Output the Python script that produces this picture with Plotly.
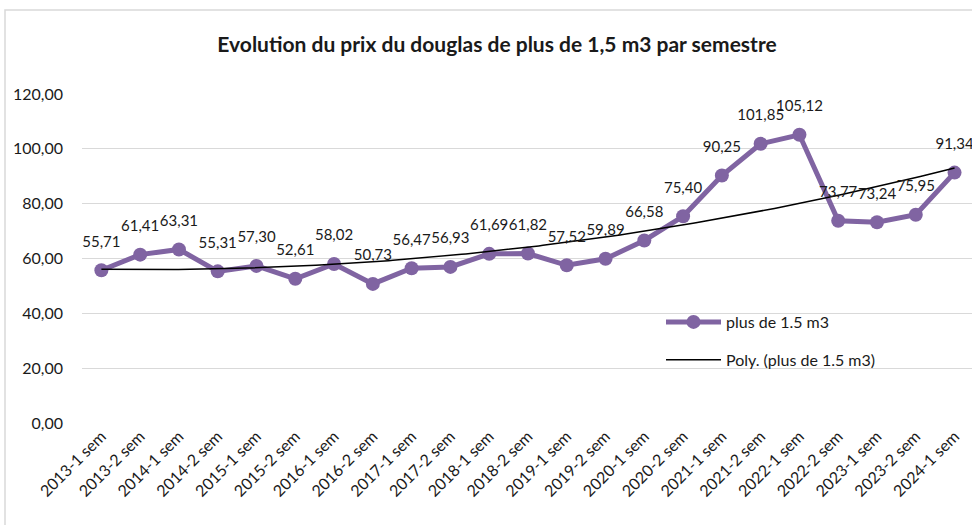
import numpy as np
import plotly.graph_objects as go

categories = ["2013-1 sem", "2013-2 sem", "2014-1 sem", "2014-2 sem", "2015-1 sem", "2015-2 sem",
              "2016-1 sem", "2016-2 sem", "2017-1 sem", "2017-2 sem", "2018-1 sem", "2018-2 sem",
              "2019-1 sem", "2019-2 sem", "2020-1 sem", "2020-2 sem", "2021-1 sem", "2021-2 sem",
              "2022-1 sem", "2022-2 sem", "2023-1 sem", "2023-2 sem", "2024-1 sem"]
prices = [55.71, 61.41, 63.31, 55.31, 57.30, 52.61, 58.02, 50.73, 56.47, 56.93, 61.69, 61.82,
          57.52, 59.89, 66.58, 75.40, 90.25, 101.85, 105.12, 73.77, 73.24, 75.95, 91.34]
y_ticks = [0, 20, 40, 60, 80, 100, 120]

idx = np.arange(len(categories))
coef = np.polyfit(idx, prices, 2)
xs = np.linspace(0, len(categories) - 1, 200)
trend = np.polyval(coef, xs)

FONT = "Lato"
TXT = "#1a1a1a"

fig = go.Figure()
fig.add_trace(go.Scatter(
    x=idx, y=prices, mode="lines+markers", name="plus de 1.5 m3",
    line=dict(color="#8064A2", width=5), marker=dict(color="#8064A2", size=14),
    legendgroup="a",
))
fig.add_trace(go.Scatter(
    x=xs, y=trend, mode="lines", name="Poly. (plus de 1.5 m3)",
    line=dict(color="black", width=1.5), legendgroup="b", hoverinfo="skip",
))
# data labels (invisible larger markers push the text further above the points)
fig.add_trace(go.Scatter(
    x=idx, y=prices, mode="markers+text", showlegend=False, hoverinfo="skip",
    marker=dict(size=30, opacity=0),
    texttemplate="%{y:.2f}", textposition="top center",
    textfont=dict(family=FONT, size=15, color=TXT), cliponaxis=False,
))

W, H = 972, 525
L, T, B = 82, 94, 102
R = 0
pw, ph = W - L - R, H - T - B

fig.update_layout(
    width=W, height=H, margin=dict(l=L, r=R, t=T, b=B, autoexpand=False),
    paper_bgcolor="white", plot_bgcolor="white",
    separators=", ",
    font=dict(family=FONT, size=16, color=TXT),
    title=dict(text="<b>Evolution du prix du douglas de plus de 1,5 m3 par semestre</b>",
               x=497 / W, xanchor="center", y=1 - 45 / H, yanchor="middle",
               font=dict(family=FONT, size=21, color=TXT)),
    xaxis=dict(tickvals=list(idx), ticktext=categories, range=[-0.5, 22.45],
               tickangle=-45, showgrid=False, zeroline=False, showline=False,
               automargin=False,
               tickfont=dict(family=FONT, size=16, color=TXT), ticks=""),
    yaxis=dict(range=[0, 120], tickvals=y_ticks, tickformat=".2f",
               showgrid=True, gridcolor="#d9d9d9", gridwidth=1.3, zeroline=False,
               showline=False, ticks="", ticklabelstandoff=18, automargin=False,
               tickfont=dict(family=FONT, size=16, color=TXT)),
    legend=dict(x=(661 - L) / pw, y=1 - (305 - T) / ph, xanchor="left", yanchor="top",
                bgcolor="rgba(0,0,0,0)", traceorder="grouped", tracegroupgap=14,
                itemwidth=55, font=dict(family=FONT, size=16, color=TXT)),
    showlegend=True,
    shapes=[dict(type="rect", xref="paper", yref="paper",
                 x0=(5 - L) / pw, x1=1.05, y0=-0.5, y1=1 + (T - 10) / ph,
                 line=dict(color="#d9d9d9", width=1.5), fillcolor="rgba(0,0,0,0)", layer="below")],
)

fig.write_html("out.html", config={"displayModeBar": False},
               post_script="document.body.style.margin='0';")
